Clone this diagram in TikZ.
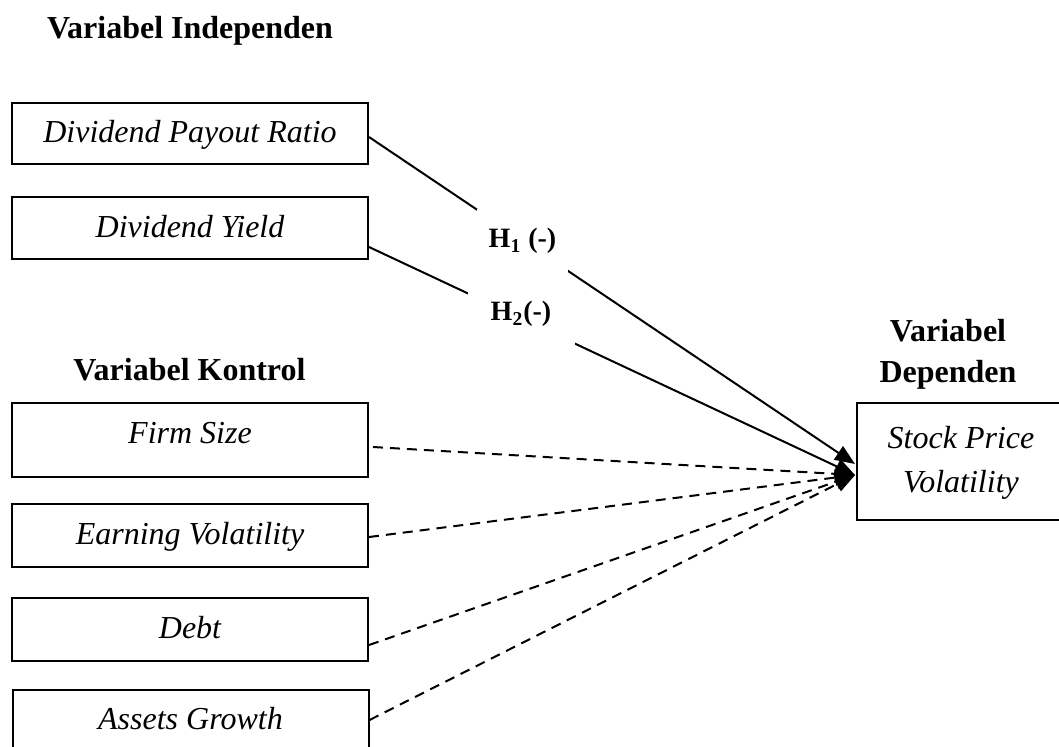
\documentclass[tikz,border=0pt]{standalone}
\usepackage{fontspec}
\setmainfont{Liberation Serif}
\usetikzlibrary{arrows.meta}
\begin{document}
\begin{tikzpicture}[x=0.5pt,y=-0.5pt,
  plain/.style={inner sep=0pt, font=\fontsize{16}{22}\selectfont},
  boxbase/.style={plain, draw, line width=1pt, font=\fontsize{16}{22}\selectfont\itshape},
  varbox/.style={boxbase, minimum width=178pt, text height=12pt, text depth=3pt},
  titletext/.style={inner sep=0pt, font=\fontsize{16}{20.5}\selectfont\bfseries},
  hyp/.style={plain, fill=white, font=\fontsize{14}{18}\selectfont\bfseries},
  link/.style={line width=1pt, -{Triangle[length=10pt,width=8pt]}},
  ctrl/.style={link, dash pattern=on 5pt off 3.5pt}
]
\useasboundingbox (0,0) rectangle (1059,746);
\clip (0,0) rectangle (1059,746);

% titles
\node[titletext, anchor=base] (tIndep) at (190,38) {Variabel Independen};
\node[titletext, anchor=base] (tKontrol) at (189.5,380) {Variabel Kontrol};
\node[titletext, anchor=south, align=center] (tDep) at (948,390) {Variabel\\Dependen};

% boxes
\node[varbox, minimum height=30.5pt] (b1) at (190,133.5) {Dividend Payout Ratio};
\node[varbox, minimum height=31pt] (b2) at (190,228) {Dividend Yield};
\node[varbox, minimum height=37pt, text depth=9pt] (b3) at (190,440) {Firm Size};
\node[varbox, minimum height=31.5pt] (b4) at (190,535.5) {Earning Volatility};
\node[varbox, minimum height=31.5pt] (b5) at (190,629.5) {Debt};
\node[varbox, minimum height=31.5pt, text depth=4pt] (b6) at (190.5,721.5) {Assets Growth};
\node[boxbase, minimum width=200pt, minimum height=58.5pt] (dep) at (1057,461.5)
  {\hspace*{-96pt}\begin{tabular}{@{}c@{}}Stock Price\\Volatility\end{tabular}};

% arrow targets
\coordinate (tipA) at (855,464);
\coordinate (tipB) at (855,475);

% connectors
\draw[link] ([yshift=-1.75pt]b1.east) -- (tipA);
\draw[link] ([yshift=-9.5pt]b2.east) -- (tipB);
\draw[ctrl] ([xshift=2pt,yshift=-3.5pt]b3.east) -- (tipB);
\draw[ctrl] ([yshift=-0.75pt]b4.east) -- (tipB);
\draw[ctrl] ([yshift=-7.75pt]b5.east) -- (tipB);
\draw[ctrl] ([yshift=0.75pt]b6.east) -- (tipB);

% hypothesis labels (white boxes break the lines)
\node[hyp, minimum width=45.5pt, minimum height=32pt] (h1) at (522.5,241) {H\textsubscript{1} (-)};
\node[hyp, minimum width=53.5pt, minimum height=31pt] (h2) at (521,314) {H\textsubscript{2}(-)};
\end{tikzpicture}
\end{document}
